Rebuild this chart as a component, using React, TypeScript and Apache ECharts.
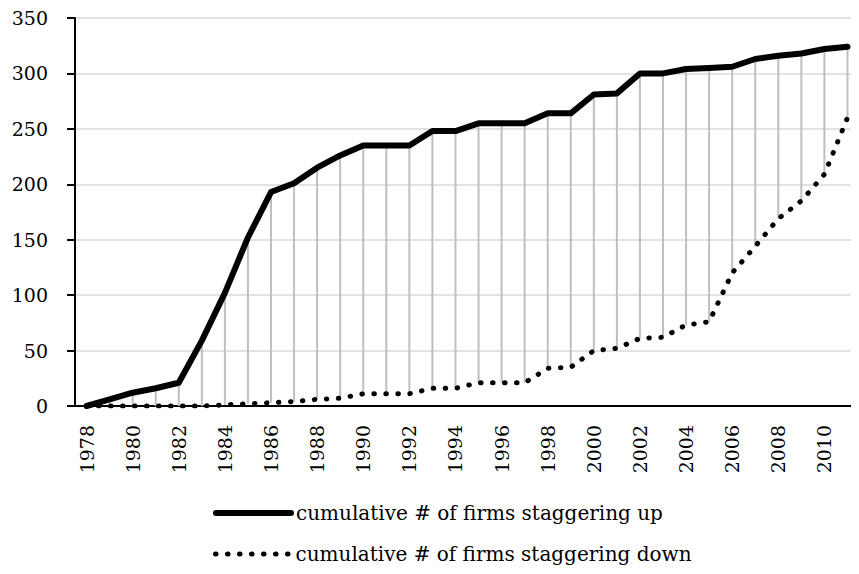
import React, { useEffect, useRef } from "react";
import * as echarts from "echarts";

const years: string[] = [
  "1978", "1979", "1980", "1981", "1982", "1983", "1984", "1985", "1986", "1987",
  "1988", "1989", "1990", "1991", "1992", "1993", "1994", "1995", "1996", "1997",
  "1998", "1999", "2000", "2001", "2002", "2003", "2004", "2005", "2006", "2007",
  "2008", "2009", "2010", "2011",
];

const upValues: number[] = [
  0, 6, 12, 16, 21, 59, 102, 152, 193, 201,
  215, 226, 235, 235, 235, 248, 248, 255, 255, 255,
  264, 264, 281, 282, 300, 300, 304, 305, 306, 313,
  316, 318, 322, 324,
];

const downValues: number[] = [
  0, 0, 0, 0, 0, 0, 1, 2, 3, 4,
  6, 7, 11, 11, 11, 16, 16, 21, 21, 21,
  34, 35, 50, 52, 61, 62, 73, 76, 120, 144,
  169, 185, 209, 260,
];

const upName = "cumulative # of firms staggering up";
const downName = "cumulative # of firms staggering down";

const FONT = "DejaVu Serif";

export default function App() {
  const ref = useRef<HTMLDivElement>(null);

  useEffect(() => {
    if (!ref.current) return;
    const chart = echarts.init(ref.current, undefined, { renderer: "svg" });
    const dropData = years.map((_, i) => [i, downValues[i], upValues[i]]);
    const legendBase = {
      orient: "horizontal",
      left: 213,
      padding: 0,
      itemWidth: 75,
      itemHeight: 14,
      itemGap: 10,
      textStyle: { color: "#000", fontFamily: FONT, fontSize: 20 },
      itemStyle: { color: "rgba(0,0,0,0)", borderWidth: 0, opacity: 0 },
    };
    chart.setOption({
      animation: false,
      backgroundColor: "#ffffff",
      grid: { left: 75, right: -9, top: 18, bottom: 168, containLabel: false },
      xAxis: {
        type: "category",
        data: years,
        boundaryGap: true,
        axisLine: { show: true, lineStyle: { color: "#000", width: 2 } },
        axisTick: { show: false },
        axisLabel: {
          interval: 1,
          rotate: 90,
          margin: 19,
          color: "#000",
          fontFamily: FONT,
          fontSize: 19,
        },
        splitLine: { show: false },
      },
      yAxis: {
        type: "value",
        min: 0,
        max: 350,
        interval: 50,
        axisLine: { show: true, lineStyle: { color: "#000", width: 2 } },
        axisTick: { show: true, length: 8, lineStyle: { color: "#000", width: 2 } },
        axisLabel: {
          margin: 27,
          color: "#000",
          fontFamily: FONT,
          fontSize: 19,
        },
        splitLine: { show: true, lineStyle: { color: "#d9d9d9", width: 1.5 } },
      },
      legend: [
        {
          ...legendBase,
          top: 503,
          data: [{ name: upName, lineStyle: { width: 6, color: "#000" } }],
        },
        {
          ...legendBase,
          top: 544,
          data: [{ name: downName, lineStyle: { width: 5, color: "#000", type: [0.5, 11.5], cap: "round" } }],
        },
      ],
      series: [
        {
          type: "custom",
          name: "drop",
          silent: true,
          z: 1,
          encode: { x: 0, y: [1, 2] },
          data: dropData,
          renderItem: (params: any, api: any) => {
            const x = api.value(0);
            const lo = api.coord([x, api.value(1)]);
            const hi = api.coord([x, api.value(2)]);
            return {
              type: "line",
              shape: { x1: lo[0], y1: lo[1], x2: hi[0], y2: hi[1] },
              style: { stroke: "#bfbfbf", lineWidth: 2 },
            };
          },
        },
        {
          type: "line",
          name: upName,
          data: upValues,
          z: 3,
          symbol: "none",
          showSymbol: false,
          lineStyle: { color: "#000", width: 6, cap: "round", join: "round" },
          itemStyle: { color: "#000" },
        },
        {
          type: "line",
          name: downName,
          data: downValues,
          z: 4,
          symbol: "none",
          showSymbol: false,
          lineStyle: { color: "#000", width: 5, type: [0.5, 11.5], cap: "round", join: "round" },
          itemStyle: { color: "#000" },
        },
      ],
    });
    return () => chart.dispose();
  }, []);

  return <div ref={ref} style={{ width: 859, height: 574, margin: -8 }} />;
}
